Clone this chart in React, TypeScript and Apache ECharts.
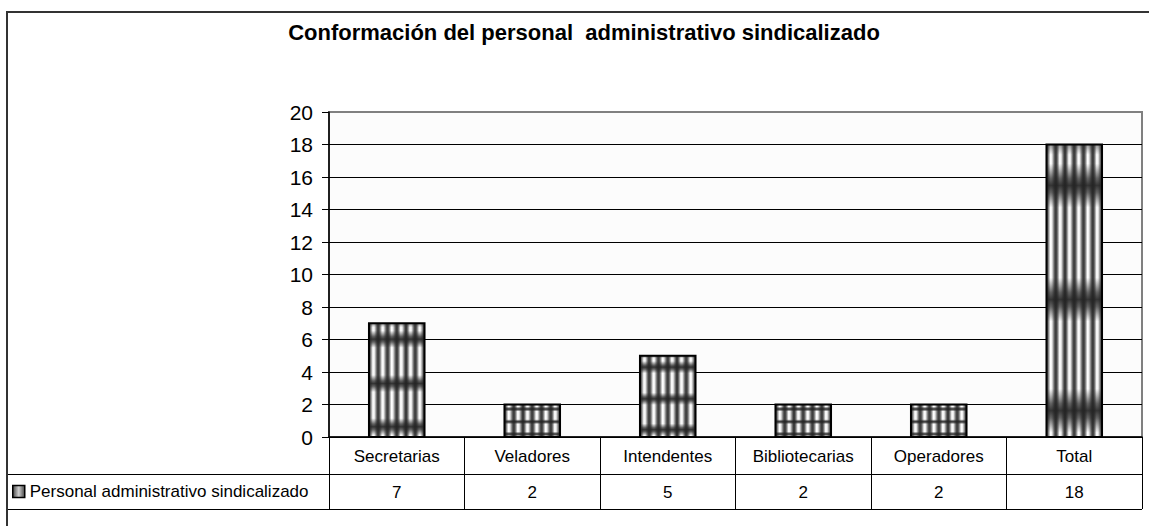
import React, { useEffect, useRef } from "react";
import * as echarts from "echarts";

const TITLE = "Conformación del personal  administrativo sindicalizado";
const SERIES_NAME = "Personal administrativo sindicalizado";
const categories = ["Secretarias", "Veladores", "Intendentes", "Bibliotecarias", "Operadores", "Total"];
const values = [7, 2, 5, 2, 2, 18];
const yMin = 0;
const yMax = 20;
const yInterval = 2;

const FONT = "'Liberation Sans', Arial, Helvetica, sans-serif";

function stripeGradient() {
  return new echarts.graphic.LinearGradient(0, 0, 1, 0, [
    { offset: 0, color: "#262626" },
    { offset: 0.18, color: "#6e6e6e" },
    { offset: 0.42, color: "#ffffff" },
    { offset: 0.58, color: "#f0f0f0" },
    { offset: 0.82, color: "#6e6e6e" },
    { offset: 1, color: "#262626" },
  ]);
}

function bandGradient() {
  const centers = [0.14, 0.53, 0.91];
  const spread = 0.075;
  const stops: { offset: number; color: string }[] = [
    { offset: 0, color: "rgba(40,40,40,0.5)" },
    { offset: 0.035, color: "rgba(40,40,40,0)" },
  ];
  centers.forEach((c) => {
    stops.push({ offset: Math.max(0, c - spread), color: "rgba(35,35,35,0)" });
    stops.push({ offset: c - spread / 3, color: "rgba(35,35,35,0.7)" });
    stops.push({ offset: c, color: "rgba(35,35,35,0.92)" });
    stops.push({ offset: c + spread / 3, color: "rgba(35,35,35,0.7)" });
    stops.push({ offset: Math.min(1, c + spread), color: "rgba(35,35,35,0)" });
  });
  stops.push({ offset: 1, color: "rgba(35,35,35,0)" });
  return new echarts.graphic.LinearGradient(0, 0, 0, 1, stops);
}

export default function App() {
  const ref = useRef<HTMLDivElement>(null);

  useEffect(() => {
    document.body.style.margin = "0";
    if (!ref.current) return;
    const chart = echarts.init(ref.current, null, { renderer: "svg" });

    const option: any = {
      animation: false,
      backgroundColor: "#ffffff",
      textStyle: { fontFamily: FONT },
      graphic: [
        {
          type: "rect",
          z: 100,
          silent: true,
          shape: { x: 7, y: 12, width: 1200, height: 600 },
          style: { fill: "none", stroke: "#333333", lineWidth: 2 },
        },
        {
          type: "text",
          x: 584,
          y: 32,
          style: {
            text: TITLE,
            fill: "#000",
            font: `bold 22px ${FONT}`,
            textAlign: "center",
            textVerticalAlign: "middle",
          },
        },
        {
          type: "line",
          z: 50,
          shape: { x1: 7, y1: 474.5, x2: 329, y2: 474.5 },
          style: { stroke: "#000", lineWidth: 1 },
        },
        {
          type: "line",
          z: 50,
          shape: { x1: 7, y1: 509.5, x2: 1142, y2: 509.5 },
          style: { stroke: "#000", lineWidth: 1 },
        },
      ],
      legend: {
        show: true,
        left: 12,
        top: 483,
        padding: 0,
        itemWidth: 12,
        itemHeight: 12,
        selectedMode: false,
        textStyle: { fontSize: 17, color: "#000", fontFamily: FONT },
        data: [
          {
            name: SERIES_NAME,
            icon: "rect",
            itemStyle: {
              color: new echarts.graphic.LinearGradient(0, 0, 1, 0, [
                { offset: 0, color: "#444" },
                { offset: 0.5, color: "#cfcfcf" },
                { offset: 1, color: "#444" },
              ]),
              borderColor: "#000",
              borderWidth: 1.5,
            },
          },
        ],
      },
      grid: {
        left: 329,
        right: 7,
        top: 112,
        bottom: 89,
        show: true,
        backgroundColor: "#fcfcfc",
        borderColor: "#808080",
        borderWidth: 2,
      },
      xAxis: [
        {
          type: "category",
          data: categories,
          position: "bottom",
          axisLine: { show: true, lineStyle: { color: "#000", width: 1.5 } },
          axisTick: { show: true, interval: 0, length: 37, alignWithLabel: false, lineStyle: { color: "#000", width: 1 } },
          axisLabel: { interval: 0, margin: 11, fontSize: 17, color: "#000", fontFamily: FONT },
          splitLine: { show: false },
        },
        {
          type: "category",
          data: categories,
          position: "bottom",
          offset: 37,
          axisLine: { show: true, lineStyle: { color: "#000", width: 1 } },
          axisTick: { show: true, interval: 0, length: 35, alignWithLabel: false, lineStyle: { color: "#000", width: 1 } },
          axisLabel: {
            interval: 0,
            margin: 10,
            fontSize: 17,
            color: "#000",
            fontFamily: FONT,
            formatter: (_v: string, i: number) => String(values[i]),
          },
          splitLine: { show: false },
        },
      ],
      yAxis: {
        type: "value",
        min: yMin,
        max: yMax,
        interval: yInterval,
        axisLine: { show: true, lineStyle: { color: "#000", width: 1.5 } },
        axisTick: { show: true, length: 7, lineStyle: { color: "#000" } },
        axisLabel: { margin: 16, fontSize: 21, color: "#000", fontFamily: FONT },
        splitLine: {
          show: true,
          lineStyle: {
            color: ["#000", "#000", "#000", "#000", "#000", "#000", "#000", "#000", "#000", "#000", "#808080"],
            width: 1,
          },
        },
      },
      series: [
        {
          name: SERIES_NAME,
          type: "custom",
          xAxisIndex: 0,
          yAxisIndex: 0,
          itemStyle: { color: "#888" },
          encode: { x: 0, y: 1 },
          data: categories.map((_c, i) => [i, values[i]]),
          renderItem: (_params: any, api: any) => {
            const idx = api.value(0);
            const v = api.value(1);
            const top = api.coord([idx, v]);
            const base = api.coord([idx, 0]);
            const bw = api.size([1, 0])[0] * 0.41;
            const x0 = top[0] - bw / 2;
            const h = base[1] - top[1];
            const n = 6;
            const sw = bw / n;
            const children: any[] = [];
            children.push({
              type: "rect",
              shape: { x: x0, y: top[1], width: bw, height: h },
              style: { fill: "#888" },
            });
            for (let i = 0; i < n; i++) {
              children.push({
                type: "rect",
                shape: { x: x0 + i * sw, y: top[1], width: sw, height: h },
                style: { fill: stripeGradient() },
              });
            }
            children.push({
              type: "rect",
              shape: { x: x0, y: top[1], width: bw, height: h },
              style: { fill: bandGradient() },
            });
            children.push({
              type: "rect",
              shape: { x: x0, y: top[1], width: bw, height: h },
              style: { fill: "none", stroke: "#000", lineWidth: 2 },
            });
            return { type: "group", children };
          },
        },
      ],
    };

    chart.setOption(option);
    return () => chart.dispose();
  }, []);

  return (
    <div
      ref={ref}
      style={{ position: "absolute", left: 0, top: 0, width: 1149, height: 526 }}
    />
  );
}
